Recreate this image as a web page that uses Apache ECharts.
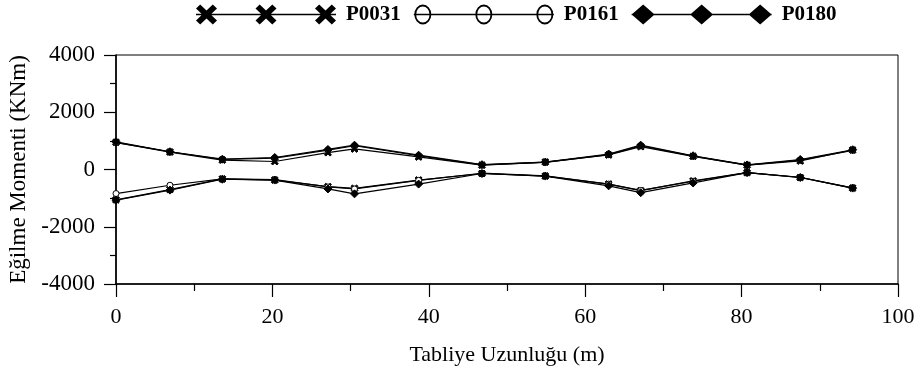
<!DOCTYPE html>
<html>
<head>
<meta charset="utf-8">
<script src="https://cdn.jsdelivr.net/npm/echarts@6/dist/echarts.min.js"></script>
<style>
html,body{margin:0;padding:0;background:#fff;}
#chart{width:924px;height:369px;}
</style>
</head>
<body>
<div id="chart"></div>
<script>
// ---- data ----
const positions = [0, 6.9, 13.6, 20.3, 27.1, 30.5, 38.7, 46.8, 54.9, 63.0, 67.1, 73.8, 80.7, 87.5, 94.2];

const p0031Max = [950, 610, 330, 280, 590, 720, 440, 150, 260, 510, 800, 460, 150, 300, 680];
const p0031Min = [-1060, -700, -330, -370, -600, -660, -370, -140, -230, -510, -740, -400, -110, -280, -650];

const p0161Max = [940, 620, 350, 400, 680, 830, 480, 160, 250, 520, 830, 470, 150, 330, 670];
const p0161Min = [-840, -550, -330, -350, -610, -680, -380, -130, -220, -510, -730, -410, -110, -270, -640];

const p0180Max = [970, 620, 360, 420, 700, 850, 500, 170, 260, 540, 850, 480, 160, 350, 690];
const p0180Min = [-1070, -720, -340, -370, -680, -850, -510, -140, -230, -570, -810, -470, -110, -280, -650];

const seriesNames = ['P0031', 'P0161', 'P0180'];
const xTicks = [0, 20, 40, 60, 80, 100];
const yTicks = [-4000, -2000, 0, 2000, 4000];

// ---- helpers (styling only) ----
const FONT = 'Liberation Serif';
const CROSS = 'path://M2 0 L5 3 L8 0 L10 2 L7 5 L10 8 L8 10 L5 7 L2 10 L0 8 L3 5 L0 2 Z';

function pair(xs, ys) { return xs.map((x, i) => [x, ys[i]]); }

function lineRect(w, cy, t) {
  return `M0 ${cy - t / 2} L${w} ${cy - t / 2} L${w} ${cy + t / 2} L0 ${cy + t / 2} Z `;
}
function crossAt(cx, cy, hx, hy) {
  const pts = [[2,0],[5,3],[8,0],[10,2],[7,5],[10,8],[8,10],[5,7],[2,10],[0,8],[3,5],[0,2]];
  return 'M' + pts.map(p => `${cx - hx + p[0] * hx / 5} ${cy - hy + p[1] * hy / 5}`).join(' L') + ' Z ';
}
function ringAt(cx, cy, rx, ry, ix, iy) {
  return `M${cx - rx} ${cy} A${rx} ${ry} 0 1 1 ${cx + rx} ${cy} A${rx} ${ry} 0 1 1 ${cx - rx} ${cy} Z ` +
         `M${cx - ix} ${cy} A${ix} ${iy} 0 1 0 ${cx + ix} ${cy} A${ix} ${iy} 0 1 0 ${cx - ix} ${cy} Z `;
}
function diamondAt(cx, cy, hx, hy) {
  return `M${cx - hx} ${cy} L${cx} ${cy - hy} L${cx + hx} ${cy} L${cx} ${cy + hy} Z `;
}
const LW = 140, LH = 20;
const legendCross = 'path://' + lineRect(LW, 10, 1.4) + [10.5, 70, 129.5].map(c => crossAt(c, 10, 10.5, 10)).join('');
const legendCircle = 'path://' + lineRect(LW, 10, 1.4) + [9, 70, 131].map(c => ringAt(c, 10, 8.5, 10, 6.7, 8.1)).join('');
const legendDiamond = 'path://' + lineRect(LW, 10, 1.4) + [11.5, 70, 128.5].map(c => diamondAt(c, 10, 11.5, 10)).join('');

function lineSeries(name, data, symbol, size, fill) {
  return {
    name: name,
    type: 'line',
    data: data,
    symbol: symbol,
    symbolSize: size,
    showAllSymbol: true,
    lineStyle: { color: '#000', width: 1.2 },
    itemStyle: { color: fill || '#000', borderColor: '#000', borderWidth: 1 },
    emphasis: { disabled: true },
    animation: false
  };
}
const plainNum = v => String(v);

const chart = echarts.init(document.getElementById('chart'), null, { renderer: 'canvas' });
chart.setOption({
  animation: false,
  backgroundColor: '#fff',
  textStyle: { fontFamily: FONT },
  legend: {
    left: 196,
    top: 4,
    padding: 0,
    itemWidth: LW,
    itemHeight: LH,
    itemGap: 13,
    selectedMode: false,
    textStyle: { fontFamily: FONT, fontWeight: 'bold', fontSize: 21, color: '#000', padding: [0, 0, 0, 5] },
    data: [
      { name: seriesNames[0], icon: legendCross, itemStyle: { color: '#000', borderWidth: 0 } },
      { name: seriesNames[1], icon: legendCircle, itemStyle: { color: '#000', borderWidth: 0 } },
      { name: seriesNames[2], icon: legendDiamond, itemStyle: { color: '#000', borderWidth: 0 } }
    ]
  },
  grid: {
    left: 116, right: 26, top: 55, bottom: 85,
    containLabel: false,
    outerBoundsMode: 'none',
    show: true, borderColor: '#000', borderWidth: 1, backgroundColor: 'transparent'
  },
  xAxis: {
    type: 'value',
    min: xTicks[0], max: xTicks[xTicks.length - 1], interval: 20,
    name: 'Tabliye Uzunluğu (m)',
    nameLocation: 'middle',
    nameGap: 60,
    nameTextStyle: { fontFamily: FONT, fontSize: 22, color: '#000' },
    axisLine: { show: true, onZero: false, lineStyle: { color: '#000', width: 1.6 } },
    axisTick: { show: true, length: 13, inside: false, lineStyle: { color: '#000', width: 1.2 } },
    minorTick: { show: true, splitNumber: 2, length: 7, lineStyle: { color: '#000', width: 1.2 } },
    axisLabel: { fontFamily: FONT, fontSize: 22, color: '#000', margin: 22, formatter: plainNum },
    splitLine: { show: false }
  },
  yAxis: {
    type: 'value',
    min: yTicks[0], max: yTicks[yTicks.length - 1], interval: 2000,
    name: 'Eğilme Momenti (KNm)',
    nameLocation: 'middle',
    nameGap: 84,
    nameTextStyle: { fontFamily: FONT, fontSize: 23, color: '#000' },
    axisLine: { show: true, onZero: false, lineStyle: { color: '#000', width: 1.6 } },
    axisTick: { show: true, length: 12, inside: false, lineStyle: { color: '#000', width: 1.2 } },
    minorTick: { show: true, splitNumber: 2, length: 6, lineStyle: { color: '#000', width: 1.2 } },
    axisLabel: { fontFamily: FONT, fontSize: 23, color: '#000', margin: 21, formatter: plainNum },
    splitLine: { show: false }
  },
  series: [
    lineSeries(seriesNames[0], pair(positions, p0031Max), CROSS, 7),
    lineSeries(seriesNames[0], pair(positions, p0031Min), CROSS, 7),
    lineSeries(seriesNames[1], pair(positions, p0161Max), 'circle', 6, '#fff'),
    lineSeries(seriesNames[1], pair(positions, p0161Min), 'circle', 6, '#fff'),
    lineSeries(seriesNames[2], pair(positions, p0180Max), 'diamond', 8),
    lineSeries(seriesNames[2], pair(positions, p0180Min), 'diamond', 8)
  ]
});
</script>
</body>
</html>
